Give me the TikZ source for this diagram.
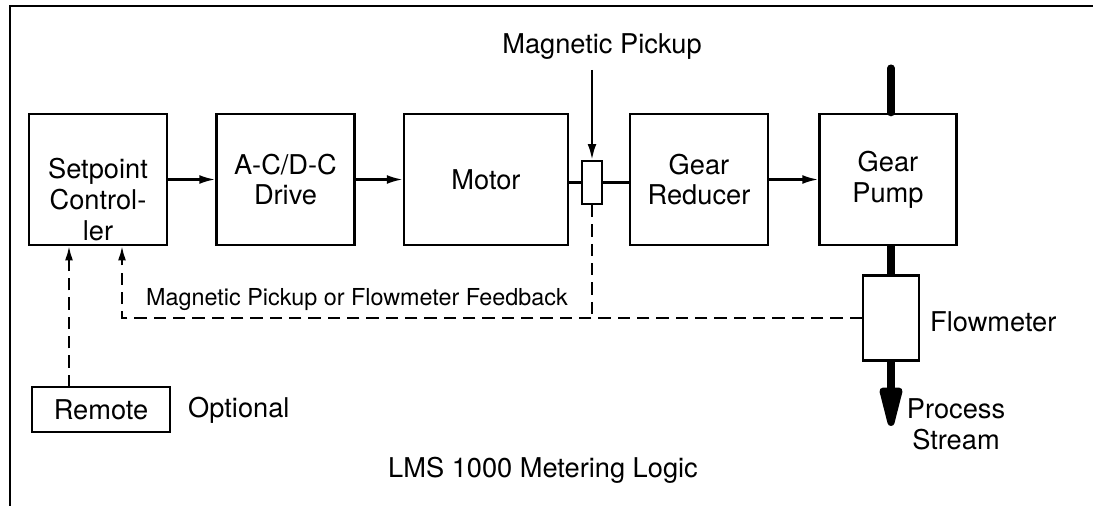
\documentclass[tikz,border=0pt]{standalone}
\usepackage{fontspec}
\setmainfont{TeX Gyre Heros}
\usetikzlibrary{arrows.meta,positioning}
\tikzset{
  blockbox/.style={draw, line width=1.4pt, minimum width=2.76cm, minimum height=2.62cm, align=center, inner sep=2pt},
  smallbox/.style={draw, line width=1.3pt, inner sep=0pt},
  sig/.style={line width=1.3pt, -{Latex[length=9pt,width=5pt]}},
  fbline/.style={line width=1.1pt, dash pattern=on 7pt off 4pt},
  fbarrow/.style={fbline, -{Latex[length=8pt,width=4.5pt]}},
  flowline/.style={line width=4pt},
}
\begin{document}
\begin{tikzpicture}[x=0.02cm, y=-0.02cm, font=\fontsize{15.5}{17.5}\selectfont]
    \useasboundingbox (0,0) rectangle (1093,506);
    % frame, cut off at the right and bottom
    \draw[line width=1.2pt] (10,506) -- (10,6) -- (1093,6);
    % blocks
    \node[blockbox] (setp) at (98,179.5) {};
    \node[align=center, anchor=north] (setptext) at (98,152) {Setpoint\\Control-\\ler};
    \node[blockbox] (drive) at (285.5,179.5) {A-C/D-C\\Drive};
    \node[blockbox, minimum width=3.28cm] (motor) at (486,179.5) {Motor};
    \node[smallbox, minimum width=0.4cm, minimum height=0.86cm] (pick) at (592,182.5) {};
    \node[blockbox] (red) at (699,179.5) {Gear\\Reducer};
    \node[blockbox, minimum width=2.74cm] (pump) at (888,179.5) {Gear\\Pump};
    \node[smallbox, minimum width=1.12cm, minimum height=1.7cm] (flow) at (891,318) {};
    \node[blockbox, minimum height=0.9cm] (rem) at (101,409.5) {Remote};
    % labels
    \node (pulab) at (602,47) {Magnetic Pickup};
    \node[anchor=west, font=\fontsize{13.3}{15}\selectfont] (fblab) at (140,300) {Magnetic Pickup or Flowmeter Feedback};
    \node[anchor=west] (optlab) at (182,410) {Optional};
    \node[anchor=west] (flowlab) at (924,322) {Flowmeter};
    \node[align=center] (pslab) at (956,424) {Process\\Stream};
    \node (title) at (543,470) {LMS 1000 Metering Logic};
    % drive train
    \draw[sig] (setp) -- (drive);
    \draw[sig] (drive) -- (motor);
    \draw[line width=1.3pt] (motor.east |- pick) -- (pick);
    \draw[line width=1.3pt] (pick) -- (red.west |- pick);
    \draw[sig] (red) -- (pump);
    \coordinate (putop) at (592,70);
    \draw[sig] (putop) -- (pick.north);
    % process stream
    \coordinate (intop) at (891,68);
    \coordinate (outend) at (891,426);
    \draw[flowline, line cap=round] (intop) -- (intop |- pump.north);
    \draw[flowline] (intop |- pump.south) -- (flow.north);
    \draw[flowline, -{Triangle[length=29pt,width=13pt,round]}] (flow.south) -- (outend);
    % feedback
    \coordinate (fbL) at (122,318);
    \coordinate (remtop) at (69,387);
    \draw[fbline] (pick.south) -- (pick.south |- fbL);
    \draw[fbarrow] (flow.west) -- (fbL) -- (fbL |- setp.south);
    \draw[fbarrow] (remtop) -- (remtop |- setp.south);
\end{tikzpicture}
\end{document}
